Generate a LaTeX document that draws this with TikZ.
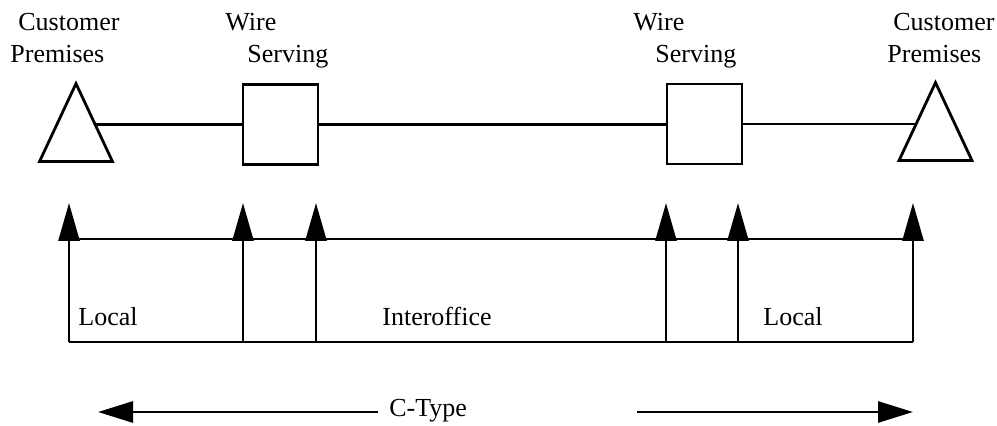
\documentclass[tikz,border=0pt]{standalone}
\usepackage{fontspec}
\setmainfont{Liberation Serif}
\usetikzlibrary{arrows.meta,shapes.geometric}
\begin{document}
\begin{tikzpicture}[x=0.5pt,y=-0.5pt,
  lw/.style={line width=1.4pt},
  lbl/.style={anchor=base west,inner sep=0pt,font=\fontsize{13}{15.6}\selectfont},
  tri/.style={draw,lw,isosceles triangle,isosceles triangle stretches,shape border rotate=90,minimum width=36.5pt,minimum height=39pt,inner sep=0pt,anchor=lower side},
  sbox/.style={draw,lw,minimum width=37.5pt,minimum height=40pt,inner sep=0pt},
  uparr/.style={lw,-{Triangle[length=19pt,width=10.5pt]}},
  sidearr/.style={lw,-{Triangle[length=17.5pt,width=10.5pt]}}]
\useasboundingbox (0,0) rectangle (997,426);
% top row
\node[tri] (triL) at (76,163) {};
\node[tri] (triR) at (935.5,162) {};
\node[sbox] (boxL) at (280.5,124.5) {};
\node[sbox] (boxR) at (704.5,124) {};
\draw[lw] (triL.right side |- boxL.west) -- (boxL.west);
\draw[lw] (boxL.east) -- (boxR.west |- boxL.east);
\draw[lw] (boxR.east) -- (triR.left side |- boxR.east);
% top labels
\node[lbl] (cust1) at (18,31) {Customer};
\node[lbl] (prem1) at (10,63) {Premises};
\node[lbl] (wire1) at (225,31) {Wire};
\node[lbl] (serv1) at (247,63) {Serving};
\node[lbl] (wire2) at (633,31) {Wire};
\node[lbl] (serv2) at (655,63) {Serving};
\node[lbl] (cust2) at (893,31) {Customer};
\node[lbl] (prem2) at (887,63) {Premises};
% middle section
\foreach \i/\x in {1/69,2/243,3/316,4/666,5/738,6/913}{
  \coordinate (b\i) at (\x,342);
  \coordinate (t\i) at (\x,203);
  \coordinate (h\i) at (\x,239);
}
\draw[lw] (h1) -- (h6);
\draw[lw] (b1) -- (b6);
\foreach \i in {1,...,6}{\draw[uparr] (b\i) -- (t\i);}
\node[lbl] (loc1) at (78,326) {Local};
\node[lbl] (inter) at (382,326) {Interoffice};
\node[lbl] (loc2) at (763,326) {Local};
% bottom
\node[lbl] (ctype) at (389,417) {C-Type};
\coordinate (cl) at (378,412);
\coordinate (lt) at (98,412);
\coordinate (cr) at (637,412);
\coordinate (rt) at (913,412);
\draw[sidearr] (cl) -- (lt);
\draw[sidearr] (cr) -- (rt);
\end{tikzpicture}
\end{document}
